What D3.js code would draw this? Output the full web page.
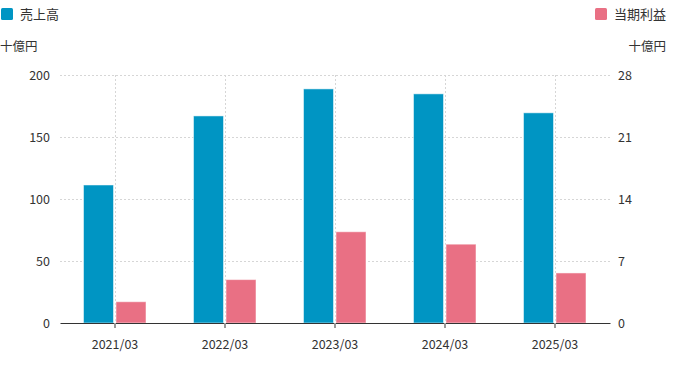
<!DOCTYPE html>
<html>
<head>
<meta charset="utf-8">
<script src="https://cdn.jsdelivr.net/npm/d3@7"></script>
<style>
  body { margin: 0; background: #fff; }
  text { font-family: "Noto Sans CJK JP", "Noto Sans", sans-serif; fill: #333; }
</style>
</head>
<body>
<svg id="chart" width="680" height="366"></svg>
<script>
const categories = ["2021/03", "2022/03", "2023/03", "2024/03", "2025/03"];
const sales = [111.3, 167, 188.8, 184.8, 169.5];
const profit = [2.4, 4.9, 10.3, 8.9, 5.65];
const leftTicks = [0, 50, 100, 150, 200];
const rightTicks = [0, 7, 14, 21, 28];
const seriesNames = ["売上高", "当期利益"];
const unitLabel = "十億円";

const svg = d3.select("#chart");
const margin = { top: 75, right: 70, bottom: 43, left: 60 };
const width = +svg.attr("width");
const height = +svg.attr("height");
const innerWidth = width - margin.left - margin.right;
const innerHeight = height - margin.top - margin.bottom;

const x = d3.scaleBand().domain(categories).range([0, innerWidth]);
const yL = d3.scaleLinear().domain([0, 200]).range([innerHeight, 0]);
const yR = d3.scaleLinear().domain([0, 28]).range([innerHeight, 0]);

const g = svg.append("g").attr("transform", `translate(${margin.left},${margin.top})`);

// horizontal grid
g.append("g")
  .selectAll("line")
  .data(leftTicks.slice(1))
  .join("line")
  .attr("x1", 0).attr("x2", innerWidth)
  .attr("y1", d => yL(d) + 0.5).attr("y2", d => yL(d) + 0.5)
  .attr("stroke", "#d6d6d6")
  .attr("stroke-dasharray", "2,2");

// vertical grid at category centers
g.append("g")
  .selectAll("line")
  .data(categories)
  .join("line")
  .attr("x1", d => Math.round(x(d) + x.bandwidth() / 2) + 0.5)
  .attr("x2", d => Math.round(x(d) + x.bandwidth() / 2) + 0.5)
  .attr("y1", 0).attr("y2", innerHeight)
  .attr("stroke", "#d6d6d6")
  .attr("stroke-dasharray", "2,2");

const barW = 30;

// sales bars
g.append("g")
  .selectAll("rect")
  .data(sales)
  .join("rect")
  .attr("x", (d, i) => x(categories[i]) + x.bandwidth() / 2 - barW - 1.5)
  .attr("y", d => yL(d))
  .attr("width", barW)
  .attr("height", d => innerHeight - yL(d))
  .attr("fill", "#0095c3")
  .attr("stroke", "#ffffff")
  .attr("stroke-opacity", 0.5)
  .attr("stroke-width", 1);

// profit bars
g.append("g")
  .selectAll("rect")
  .data(profit)
  .join("rect")
  .attr("x", (d, i) => x(categories[i]) + x.bandwidth() / 2 + 1)
  .attr("y", d => yR(d))
  .attr("width", barW)
  .attr("height", d => innerHeight - yR(d))
  .attr("fill", "#e97084")
  .attr("stroke", "#ffffff")
  .attr("stroke-opacity", 0.5)
  .attr("stroke-width", 1);

// x axis
const xAxis = g.append("g")
  .attr("transform", `translate(0,${innerHeight})`)
  .call(d3.axisBottom(x).tickSize(5).tickSizeOuter(0).tickPadding(12));
xAxis.select(".domain").attr("stroke", "#333").attr("stroke-width", 1.2);
xAxis.selectAll(".tick line").attr("stroke", "#999").attr("stroke-width", 2);
xAxis.selectAll("text").attr("font-size", 12.5);

// left axis
const yAxisL = g.append("g")
  .call(d3.axisLeft(yL).tickValues(leftTicks).tickSize(0).tickPadding(10));
yAxisL.select(".domain").remove();
yAxisL.selectAll("text").attr("font-size", 12.5);

// right axis
const yAxisR = g.append("g")
  .attr("transform", `translate(${innerWidth},0)`)
  .call(d3.axisRight(yR).tickValues(rightTicks).tickSize(0).tickPadding(8));
yAxisR.select(".domain").remove();
yAxisR.selectAll("text").attr("font-size", 12.5);

// units
svg.append("text").attr("x", 0).attr("y", 51).attr("font-size", 12.5).text(unitLabel);
svg.append("text").attr("x", 666).attr("y", 51).attr("font-size", 12.5)
  .attr("text-anchor", "end").text(unitLabel);

// legend
const legend = [
  { name: seriesNames[0], color: "#0095c3", x: 1 },
  { name: seriesNames[1], color: "#e97084", x: 595 }
];
const lg = svg.append("g").selectAll("g").data(legend).join("g")
  .attr("transform", d => `translate(${d.x},8)`);
lg.append("rect").attr("width", 12).attr("height", 12).attr("rx", 1.5)
  .attr("fill", d => d.color);
lg.append("text").attr("x", 19).attr("y", 11).attr("font-size", 13).text(d => d.name);
</script>
</body>
</html>
